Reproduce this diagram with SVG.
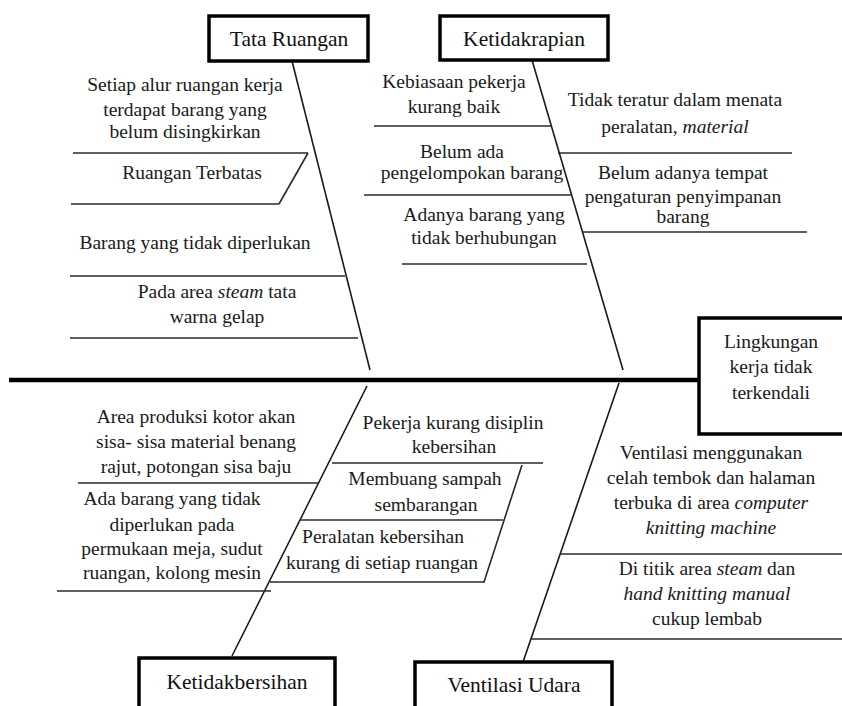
<svg xmlns="http://www.w3.org/2000/svg" width="842" height="706" viewBox="0 0 842 706">
<style>
.t{font-family:"Liberation Serif","Times New Roman",serif;font-size:19.5px;fill:#1a1a1a;text-anchor:middle}
.h{font-family:"Liberation Serif","Times New Roman",serif;font-size:21.5px;fill:#111;text-anchor:middle}
.box{fill:#fff;stroke:#000;stroke-width:3.5}
.ln{stroke:#2a2a2a;stroke-width:1.6;fill:none}
.bone{stroke:#1a1a1a;stroke-width:1.6;fill:none}
i,.it{font-style:italic}
</style>
<rect width="842" height="706" fill="#fff"/>
<g id="connectors">
<line x1="9" y1="380" x2="700" y2="380" stroke="#000" stroke-width="4.5"/>
<line class="bone" x1="292" y1="61" x2="370" y2="370"/>
<line class="bone" x1="532" y1="60" x2="623" y2="370"/>
<line class="bone" x1="367" y1="386" x2="232" y2="656"/>
<line class="bone" x1="619" y1="383" x2="523" y2="662"/>
<line class="ln" x1="73" y1="153" x2="308" y2="153"/>
<line class="ln" x1="308" y1="153" x2="279" y2="204"/>
<line class="ln" x1="71" y1="204" x2="279" y2="204"/>
<line class="ln" x1="70" y1="276" x2="345" y2="276"/>
<line class="ln" x1="70" y1="338" x2="358" y2="338"/>
<line class="ln" x1="374" y1="126" x2="552" y2="126"/>
<line class="ln" x1="364" y1="195" x2="572" y2="195"/>
<line class="ln" x1="402" y1="264" x2="587" y2="264"/>
<line class="ln" x1="558" y1="153" x2="792" y2="153"/>
<line class="ln" x1="583" y1="232" x2="807" y2="232"/>
<line class="ln" x1="78" y1="483" x2="318" y2="483"/>
<line class="ln" x1="57" y1="591" x2="271" y2="591"/>
<line class="ln" x1="332" y1="463" x2="543" y2="463"/>
<line class="ln" x1="522" y1="465" x2="484" y2="582"/>
<line class="ln" x1="300" y1="520" x2="503" y2="520"/>
<line class="ln" x1="270" y1="582" x2="485" y2="582"/>
<line class="ln" x1="560" y1="554" x2="842" y2="554"/>
<line class="ln" x1="530" y1="639" x2="842" y2="639"/>
</g>
<g id="tata-ruangan">
<rect class="box" x="209" y="16" width="159" height="45"/>
<text class="h" x="289" y="46">Tata Ruangan</text>
</g>
<g id="ketidakrapian">
<rect class="box" x="440" y="16" width="168" height="44"/>
<text class="h" x="524" y="46">Ketidakrapian</text>
</g>
<g id="lingkungan">
<rect class="box" x="699" y="318" width="150" height="116"/>
<text class="t" x="771" y="348">Lingkungan</text>
<text class="t" x="771" y="373">kerja tidak</text>
<text class="t" x="771" y="399">terkendali</text>
</g>
<g id="ketidakbersihan">
<rect class="box" x="139" y="658" width="196" height="60"/>
<text class="h" x="237" y="689">Ketidakbersihan</text>
</g>
<g id="ventilasi-udara">
<rect class="box" x="415" y="662" width="197" height="60"/>
<text class="h" x="514" y="692">Ventilasi Udara</text>
</g>
<g id="c-tata">
<text class="t" x="185" y="91">Setiap alur ruangan kerja</text>
<text class="t" x="185" y="116">terdapat barang yang</text>
<text class="t" x="185" y="138">belum disingkirkan</text>
<text class="t" x="192" y="179">Ruangan Terbatas</text>
<text class="t" x="195" y="249">Barang yang tidak diperlukan</text>
<text class="t" x="217" y="298">Pada area <tspan class="it">steam</tspan> tata</text>
<text class="t" x="217" y="323">warna gelap</text>
</g>
<g id="c-rapi">
<text class="t" x="454" y="88">Kebiasaan pekerja</text>
<text class="t" x="454" y="113">kurang baik</text>
<text class="t" x="462" y="158">Belum ada</text>
<text class="t" x="472" y="179">pengelompokan barang</text>
<text class="t" x="484" y="221">Adanya barang yang</text>
<text class="t" x="484" y="244">tidak berhubungan</text>
<text class="t" x="675" y="106">Tidak teratur dalam menata</text>
<text class="t" x="675" y="133">peralatan, <tspan class="it">material</tspan></text>
<text class="t" x="683" y="179">Belum adanya tempat</text>
<text class="t" x="683" y="203">pengaturan penyimpanan</text>
<text class="t" x="683" y="223">barang</text>
</g>
<g id="c-bersih">
<text class="t" x="196" y="423">Area produksi kotor akan</text>
<text class="t" x="196" y="448">sisa- sisa material benang</text>
<text class="t" x="196" y="473">rajut, potongan sisa baju</text>
<text class="t" x="172" y="505">Ada barang yang tidak</text>
<text class="t" x="172" y="531">diperlukan pada</text>
<text class="t" x="172" y="555">permukaan meja, sudut</text>
<text class="t" x="172" y="579">ruangan, kolong mesin</text>
<text class="t" x="453" y="429">Pekerja kurang disiplin</text>
<text class="t" x="454" y="453">kebersihan</text>
<text class="t" x="425" y="485">Membuang sampah</text>
<text class="t" x="426" y="511">sembarangan</text>
<text class="t" x="383" y="543">Peralatan kebersihan</text>
<text class="t" x="382" y="569">kurang di setiap ruangan</text>
</g>
<g id="c-ventilasi">
<text class="t" x="711" y="459">Ventilasi menggunakan</text>
<text class="t" x="711" y="484">celah tembok dan halaman</text>
<text class="t" x="711" y="509">terbuka di area <tspan class="it">computer</tspan></text>
<text class="t" x="711" y="534"><tspan class="it">knitting machine</tspan></text>
<text class="t" x="707" y="575">Di titik area <tspan class="it">steam</tspan> dan</text>
<text class="t" x="707" y="600"><tspan class="it">hand knitting manual</tspan></text>
<text class="t" x="707" y="625">cukup lembab</text>
</g>
</svg>
